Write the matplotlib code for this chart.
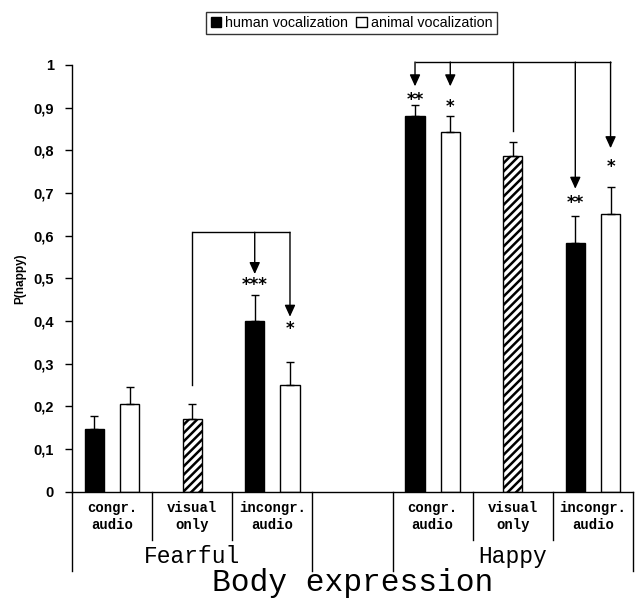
import matplotlib
matplotlib.use("Agg")
import matplotlib.pyplot as plt
from matplotlib.patches import Patch

# ---- data ----
groups = ["Fearful", "Happy"]
conditions = ["congr.\naudio", "visual\nonly", "incongr.\naudio"]
series = ["human vocalization", "animal vocalization"]

# order: [congr. audio, incongr. audio]
human_fearful = [0.148, 0.40]
human_fearful_err = [0.029, 0.060]
animal_fearful = [0.205, 0.25]
animal_fearful_err = [0.040, 0.055]
visual_fearful = 0.17
visual_fearful_err = 0.036

human_happy = [0.880, 0.583]
human_happy_err = [0.026, 0.063]
animal_happy = [0.843, 0.650]
animal_happy_err = [0.037, 0.063]
visual_happy = 0.786
visual_happy_err = 0.034

yticks = [0, 0.1, 0.2, 0.3, 0.4, 0.5, 0.6, 0.7, 0.8, 0.9, 1]
ytick_labels = ["0", "0,1", "0,2", "0,3", "0,4", "0,5", "0,6", "0,7", "0,8", "0,9", "1"]

# significance brackets: (bar key, end value, arrow?, stars, star value)
fearful_bracket_y = 0.608
fearful_marks = [("visual", 0.25, False, "", None),
                 ("h_incongr", 0.51, True, "***", 0.485),
                 ("a_incongr", 0.41, True, "*", 0.382)]
happy_bracket_y = 1.007
happy_marks = [("h_congr", 0.95, True, "**", 0.917),
               ("a_congr", 0.95, True, "*", 0.902),
               ("visual", 0.845, False, "", None),
               ("h_incongr", 0.71, True, "**", 0.677),
               ("a_incongr", 0.805, True, "*", 0.762)]

# ---- figure ----
fig = plt.figure(figsize=(6.35, 6.01), dpi=100)
ax = fig.add_axes([72/635, 1-491.7/601, 561/635, 426.7/601])

off = 0.22
bw = 0.24
err_kw = dict(fmt="none", ecolor="black", elinewidth=1, capsize=3, capthick=1)

def draw_group(base, human, herr, animal, aerr, vis, verr):
    xs = {}
    # congr
    xh = base + 0 - off; xa = base + 0 + off
    ax.bar(xh, human[0], bw, color="black", edgecolor="black", linewidth=1)
    ax.bar(xa, animal[0], bw, color="white", edgecolor="black", linewidth=1)
    ax.errorbar([xh], [human[0]], yerr=[[0], [herr[0]]], **err_kw)
    ax.errorbar([xa], [animal[0]], yerr=[[0], [aerr[0]]], **err_kw)
    xs["h_congr"] = xh; xs["a_congr"] = xa
    # visual
    xv = base + 1
    ax.bar(xv, vis, bw, color="white", edgecolor="black", linewidth=1, hatch="////")
    ax.errorbar([xv], [vis], yerr=[[0], [verr]], **err_kw)
    xs["visual"] = xv
    # incongr
    xh = base + 2 - off; xa = base + 2 + off
    ax.bar(xh, human[1], bw, color="black", edgecolor="black", linewidth=1)
    ax.bar(xa, animal[1], bw, color="white", edgecolor="black", linewidth=1)
    ax.errorbar([xh], [human[1]], yerr=[[0], [herr[1]]], **err_kw)
    ax.errorbar([xa], [animal[1]], yerr=[[0], [aerr[1]]], **err_kw)
    xs["h_incongr"] = xh; xs["a_incongr"] = xa
    return xs

plt.rcParams["hatch.linewidth"] = 1.8
xf = draw_group(0, human_fearful, human_fearful_err, animal_fearful, animal_fearful_err,
                visual_fearful, visual_fearful_err)
xhp = draw_group(4, human_happy, human_happy_err, animal_happy, animal_happy_err,
                 visual_happy, visual_happy_err)

def draw_bracket(xs, by, marks):
    xpos = [xs[m[0]] for m in marks]
    ax.plot([min(xpos), max(xpos)], [by, by], color="black", lw=1, clip_on=False,
            solid_capstyle="butt")
    for key, end, arrow, stars, sy in marks:
        x = xs[key]
        if arrow:
            ax.annotate("", xy=(x, end), xytext=(x, by), annotation_clip=False,
                        arrowprops=dict(arrowstyle="-|>,head_length=0.7,head_width=0.32",
                                        color="black", lw=1, shrinkA=0, shrinkB=0,
                                        mutation_scale=10))
        else:
            ax.plot([x, x], [by, end], color="black", lw=1, clip_on=False)
        if stars:
            ax.text(x, sy, stars, ha="center", va="center", fontsize=12,
                    fontweight="bold", family="DejaVu Sans")

draw_bracket(xf, fearful_bracket_y, fearful_marks)
draw_bracket(xhp, happy_bracket_y, happy_marks)

ax.set_xlim(-0.5, 6.5)
ax.set_ylim(0, 1)
ax.spines["top"].set_visible(False)
ax.spines["right"].set_visible(False)
ax.spines["left"].set_linewidth(1)
ax.spines["bottom"].set_linewidth(1)
ax.set_xticks([])
ax.set_yticks(yticks)
ax.set_yticklabels(ytick_labels, fontsize=10.5, fontweight="bold", family="Liberation Sans")
ax.tick_params(axis="y", direction="out", length=5, width=1, pad=8)
ax.set_ylabel("P(happy)", fontsize=8.5, fontweight="bold", family="Liberation Sans", labelpad=5)

# multi-level x axis
for x in [-0.5, 2.5, 3.5, 6.5]:
    ax.plot([x, x], [0, -0.185], color="black", lw=1, clip_on=False)
for x in [0.5, 1.5, 4.5, 5.5]:
    ax.plot([x, x], [0, -0.1125], color="black", lw=1, clip_on=False)
for base in [0, 4]:
    for i, c in enumerate(conditions):
        ax.text(base + i, -0.058, c, ha="center", va="center", fontsize=10,
                fontweight="bold", family="Liberation Mono", linespacing=1.2)
for base, g in zip([1, 5], groups):
    ax.text(base, -0.153, g, ha="center", va="center", fontsize=16.5,
            family="Liberation Mono")
ax.text(3, -0.214, "Body expression", ha="center", va="center", fontsize=22.5,
        family="Liberation Mono")

# legend
handles = [Patch(facecolor="black", edgecolor="black", label=series[0]),
           Patch(facecolor="white", edgecolor="black", label=series[1])]
leg = fig.legend(handles=handles, loc="center", bbox_to_anchor=(351.5/635, 1-23/601),
                 ncol=2, frameon=True, fancybox=False, prop={"family": "Liberation Sans", "size": 10.3},
                 handlelength=0.75, handleheight=0.75, handletextpad=0.25, columnspacing=0.6,
                 borderpad=0.3, borderaxespad=0)
leg.get_frame().set_edgecolor("black")
leg.get_frame().set_linewidth(1)

fig.savefig("out.png", dpi=100)
